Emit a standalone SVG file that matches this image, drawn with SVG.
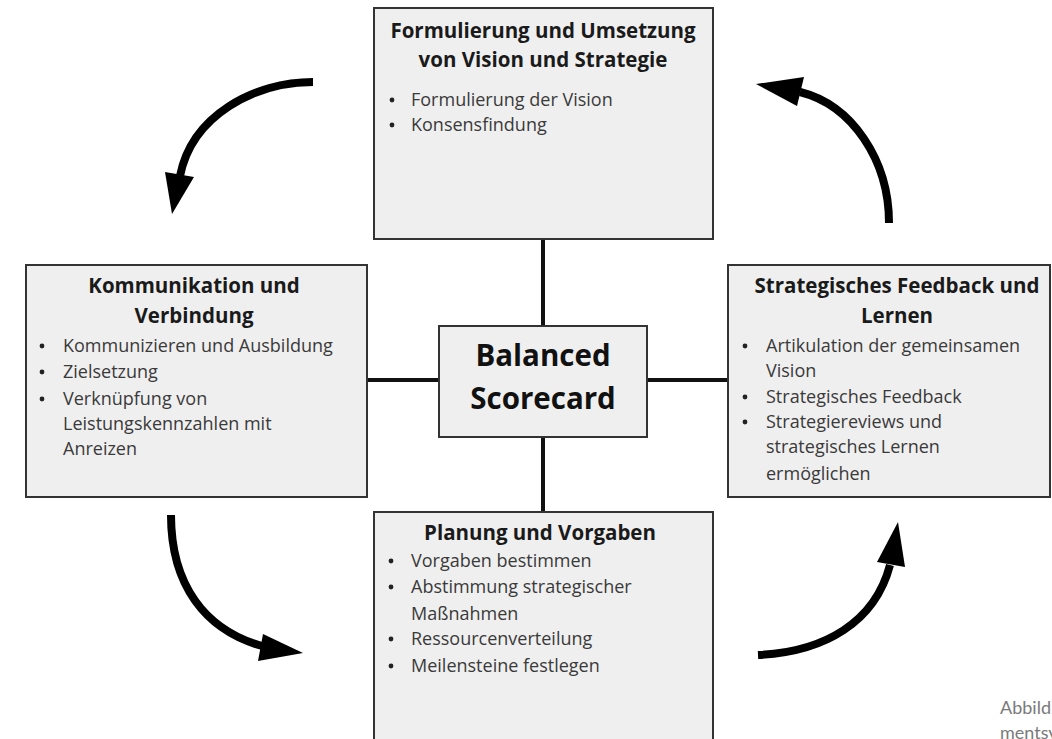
<svg xmlns="http://www.w3.org/2000/svg" width="1052" height="739" viewBox="0 0 1052 739">
  <style>
    .box { fill: #efefef; stroke: #333333; stroke-width: 2; }
    .title { font-family: "Open Sans", "Liberation Sans", sans-serif; font-weight: bold; font-size: 20.5px; fill: #1a1a1a; text-anchor: middle; }
    .item { font-family: "Open Sans", "Liberation Sans", sans-serif; font-size: 18px; fill: #3a3a3a; }
    .dot { fill: #222222; }
    .big { font-family: "Open Sans", "Liberation Sans", sans-serif; font-weight: bold; font-size: 29.5px; fill: #111111; text-anchor: middle; }
    .link { stroke: #111111; stroke-width: 4; fill: none; }
    .cycle { stroke: #000000; stroke-width: 8; fill: none; }
    .head { fill: #000000; }
    .caption { font-family: "Lato", "Liberation Sans", sans-serif; font-size: 18px; fill: #7a7a7a; }
  </style>

  <rect width="1052" height="739" fill="#ffffff"/>

  <!-- spokes from the centre to the four perspectives -->
  <g id="connectors">
    <line class="link" x1="543" y1="240" x2="543" y2="326"/>
    <line class="link" x1="543" y1="437" x2="543" y2="512"/>
    <line class="link" x1="367" y1="380" x2="439" y2="380"/>
    <line class="link" x1="647" y1="380" x2="728" y2="380"/>
  </g>

  <!-- cycle arrows around the scorecard -->
  <g id="cycle-arrows">
    <path class="cycle" d="M313,82 C255,82 192,115 180,176"/>
    <polygon class="head" points="165,172 194,177 172,214"/>
    <path class="cycle" d="M171,515 C171,585 205,630 262,646"/>
    <polygon class="head" points="263,634 258,661 303,653"/>
    <path class="cycle" d="M758,655 C825,652 875,622 890,565"/>
    <polygon class="head" points="877,562 905,567 898,522"/>
    <path class="cycle" d="M889,223 C889,160 852,105 800,92"/>
    <polygon class="head" points="804,77 797,106 756,84"/>
  </g>

  <g id="node-vision">
    <rect class="box" x="374" y="8" width="339" height="231"/>
    <text class="title" x="543" y="38">Formulierung und Umsetzung</text>
    <text class="title" x="543" y="67">von Vision und Strategie</text>
    <circle class="dot" cx="392" cy="100" r="2.4"/>
    <text class="item" x="411" y="106">Formulierung der Vision</text>
    <circle class="dot" cx="392" cy="125" r="2.4"/>
    <text class="item" x="411" y="131">Konsensfindung</text>
  </g>

  <g id="node-kommunikation">
    <rect class="box" x="26" y="265" width="341" height="232"/>
    <text class="title" x="194" y="293">Kommunikation und</text>
    <text class="title" x="194" y="323">Verbindung</text>
    <circle class="dot" cx="42" cy="346" r="2.4"/>
    <text class="item" x="63" y="352">Kommunizieren und Ausbildung</text>
    <circle class="dot" cx="42" cy="372" r="2.4"/>
    <text class="item" x="63" y="378">Zielsetzung</text>
    <circle class="dot" cx="42" cy="399" r="2.4"/>
    <text class="item" x="63" y="405">Verknüpfung von</text>
    <text class="item" x="63" y="430">Leistungskennzahlen mit</text>
    <text class="item" x="63" y="455">Anreizen</text>
  </g>

  <g id="node-feedback">
    <rect class="box" x="728" y="265" width="322" height="232"/>
    <text class="title" x="897" y="293">Strategisches Feedback und</text>
    <text class="title" x="897" y="323">Lernen</text>
    <circle class="dot" cx="745" cy="346" r="2.4"/>
    <text class="item" x="766" y="352">Artikulation der gemeinsamen</text>
    <text class="item" x="766" y="377">Vision</text>
    <circle class="dot" cx="745" cy="397" r="2.4"/>
    <text class="item" x="766" y="403">Strategisches Feedback</text>
    <circle class="dot" cx="745" cy="422" r="2.4"/>
    <text class="item" x="766" y="428">Strategiereviews und</text>
    <text class="item" x="766" y="453">strategisches Lernen</text>
    <text class="item" x="766" y="480">ermöglichen</text>
  </g>

  <g id="node-planung">
    <rect class="box" x="374" y="512" width="339" height="240"/>
    <text class="title" x="540" y="540">Planung und Vorgaben</text>
    <circle class="dot" cx="391" cy="561" r="2.4"/>
    <text class="item" x="411" y="567">Vorgaben bestimmen</text>
    <circle class="dot" cx="391" cy="587" r="2.4"/>
    <text class="item" x="411" y="593">Abstimmung strategischer</text>
    <text class="item" x="411" y="620">Maßnahmen</text>
    <circle class="dot" cx="391" cy="639" r="2.4"/>
    <text class="item" x="411" y="645">Ressourcenverteilung</text>
    <circle class="dot" cx="391" cy="666" r="2.4"/>
    <text class="item" x="411" y="672">Meilensteine festlegen</text>
  </g>

  <g id="node-scorecard">
    <rect class="box" x="439" y="326" width="208" height="111"/>
    <text class="big" x="543" y="366">Balanced</text>
    <text class="big" x="543" y="409">Scorecard</text>
  </g>

  <g id="caption">
    <text class="caption" x="1000" y="714">Abbild</text>
    <text class="caption" x="1000" y="739">mentsy</text>
  </g>
</svg>
